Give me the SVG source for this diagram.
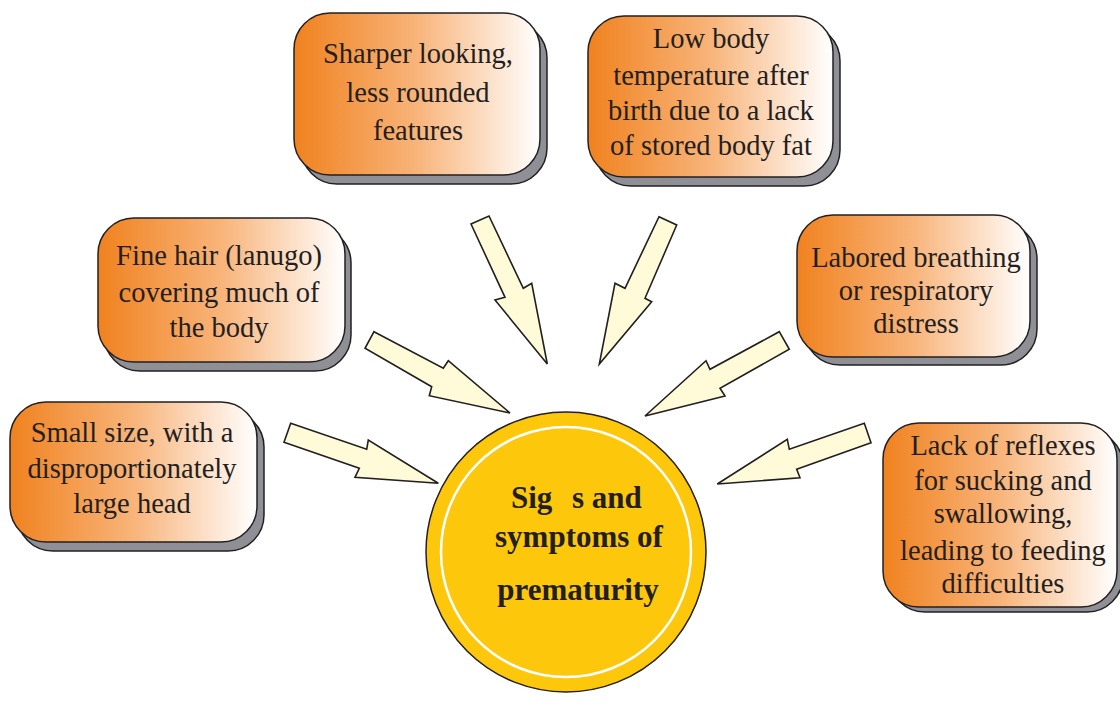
<svg xmlns="http://www.w3.org/2000/svg" width="1120" height="706" viewBox="0 0 1120 706">
<defs>
<linearGradient id="og" x1="0" y1="0" x2="1" y2="0">
<stop offset="0" stop-color="#F0821F"/>
<stop offset="0.5" stop-color="#F8B47A"/>
<stop offset="1" stop-color="#FFFFFF"/>
</linearGradient>
</defs>
<style>
.shadow{fill:#8F9095;stroke:#231F20;stroke-width:1.5}
.box{fill:url(#og);stroke:#231F20;stroke-width:1.5}
.t{font-family:"Liberation Serif","Times New Roman",serif;font-size:28.5px;fill:#231F20;text-anchor:middle}
.ct{font-family:"Liberation Serif","Times New Roman",serif;font-size:31px;font-weight:bold;fill:#231F20}
.arr{fill:#FFFAD8;stroke:#231F20;stroke-width:1.6;stroke-linejoin:miter}
</style>
<rect width="1120" height="706" fill="#FFFFFF"/>

<g id="connectors">
<polygon class="arr" points="471,224 489,216 523.3,288.3 531.7,283.3 547.3,364 495,300 505,297.3"/>
<polygon class="arr" points="374,331.7 443.3,368.3 448.3,360.7 510,413 429.3,395.7 431.7,386.7 365,348.3"/>
<polygon class="arr" points="290.7,423.3 366.7,449.3 368.3,440 438.3,483.3 355,477.3 359.3,468.3 284,442.3"/>
<polygon class="arr" points="659,216.7 676.7,225 645,298.3 651.7,301.7 599.3,364 615,283.3 625,288.3"/>
<polygon class="arr" points="779.3,331.7 789.3,349.3 720,388.3 725,396 645,416 706,360.7 710,369.3"/>
<polygon class="arr" points="864.3,423.3 871,442.7 796.7,469.3 800,477.7 717.3,484 787.3,439.3 789.3,449.3"/>
</g>

<g id="center">
<circle cx="566" cy="552" r="140" fill="#FDC70C" stroke="#231F20" stroke-width="1.5"/>
<circle cx="566" cy="552" r="125" fill="none" stroke="#FFFFFF" stroke-width="2.5"/>
<text class="ct" x="511" y="508">Sig</text>
<text class="ct" x="572" y="508">s and</text>
<text class="ct" x="579" y="547" text-anchor="middle">symptoms of</text>
<text class="ct" x="578" y="600" text-anchor="middle">prematurity</text>
</g>

<g id="n-sharper">
<rect class="shadow" x="301" y="22" width="246" height="162" rx="36"/>
<rect class="box" x="294" y="13" width="246" height="162" rx="36"/>
<text class="t" x="418" y="63">Sharper looking,</text>
<text class="t" x="418" y="102">less rounded</text>
<text class="t" x="418" y="140">features</text>
</g>

<g id="n-lowtemp">
<rect class="shadow" x="595" y="25" width="245" height="161" rx="36"/>
<rect class="box" x="588" y="16" width="245" height="161" rx="36"/>
<text class="t" x="711" y="48">Low body</text>
<text class="t" x="711" y="85">temperature after</text>
<text class="t" x="711" y="120">birth due to a lack</text>
<text class="t" x="711" y="155">of stored body fat</text>
</g>

<g id="n-finehair">
<rect class="shadow" x="104" y="227" width="247" height="144" rx="36"/>
<rect class="box" x="98" y="218" width="247" height="144" rx="36"/>
<text class="t" x="219" y="265">Fine hair (lanugo)</text>
<text class="t" x="219" y="302">covering much of</text>
<text class="t" x="219" y="337">the body</text>
</g>

<g id="n-labored">
<rect class="shadow" x="804" y="223" width="233" height="142" rx="36"/>
<rect class="box" x="797" y="215" width="233" height="142" rx="36"/>
<text class="t" x="916" y="267">Labored breathing</text>
<text class="t" x="916" y="300">or respiratory</text>
<text class="t" x="916" y="333">distress</text>
</g>

<g id="n-smallsize">
<rect class="shadow" x="17" y="411" width="247" height="140" rx="36"/>
<rect class="box" x="10" y="402" width="247" height="140" rx="36"/>
<text class="t" x="132" y="442">Small size, with a</text>
<text class="t" x="132" y="478">disproportionately</text>
<text class="t" x="132" y="513">large head</text>
</g>

<g id="n-reflexes">
<rect class="shadow" x="889" y="430" width="234" height="182" rx="36"/>
<rect class="box" x="883" y="423" width="234" height="184" rx="36"/>
<text class="t" x="1003" y="455">Lack of reflexes</text>
<text class="t" x="1003" y="490">for sucking and</text>
<text class="t" x="1003" y="523">swallowing,</text>
<text class="t" x="1003" y="560">leading to feeding</text>
<text class="t" x="1003" y="593">difficulties</text>
</g>
</svg>
